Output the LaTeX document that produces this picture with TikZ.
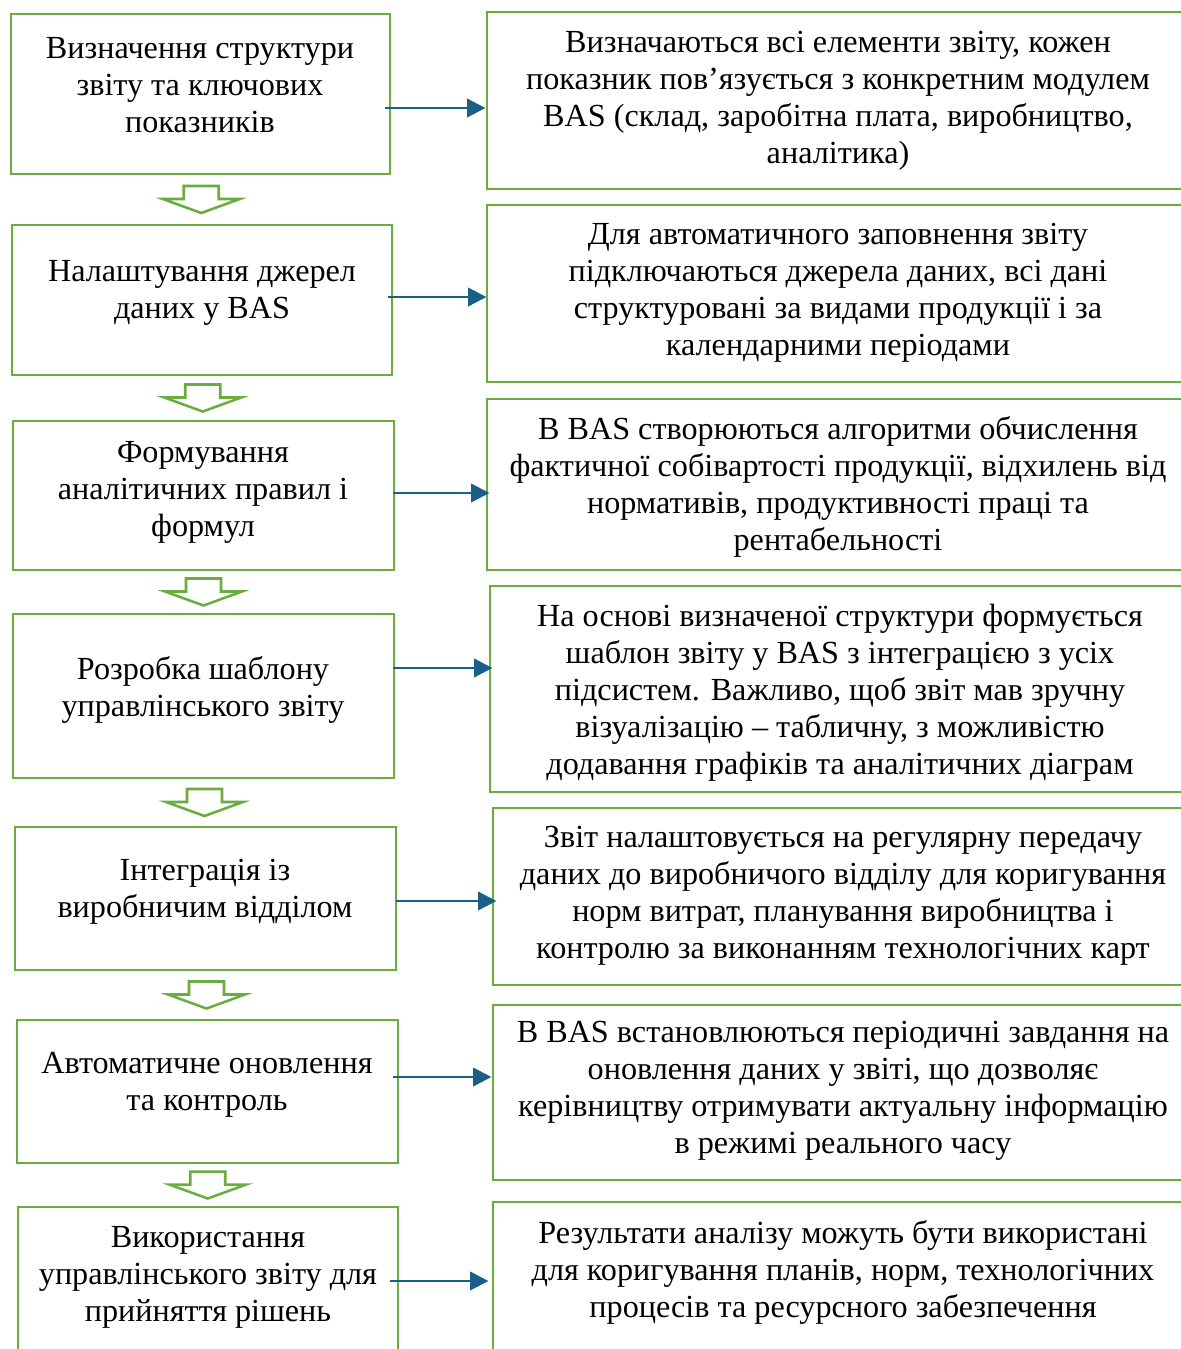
\documentclass[tikz,border=0pt]{standalone}
\usepackage{fontspec}
\setmainfont{Liberation Serif}
\usepackage{tikz}
\usetikzlibrary{arrows.meta}
\usetikzlibrary{calc}
\usetikzlibrary{fit}
\usepackage{xcolor}
\definecolor{boxgreen}{RGB}{106,172,62}
\definecolor{linkblue}{RGB}{26,95,135}

\tikzset{
    box/.style={draw=boxgreen, line width=1.1pt, rectangle, inner sep=0pt, outer sep=0pt},
    txt/.style={align=center, inner sep=0pt, font=\fontsize{14pt}{16.1pt}\selectfont},
    link/.style={draw=linkblue, line width=1.1pt, shorten >=-1.5pt, -{Triangle[length=8pt,width=8pt]}},
    blk/.style={draw=boxgreen, line width=1.1pt, fill=white, line join=miter}
}

\begin{document}
\begin{tikzpicture}[x=0.435pt, y=-0.435pt]
        \useasboundingbox (0,0) rectangle (1181,1349);
        \foreach \n/\xa/\ya/\xb/\yb in {l1/11/14/390/174, l2/12/225/392/375, l3/13/421/394/570,
            l4/13/614/394/778, l5/15/827/396/970, l6/17/1020/398/1163, l7/18/1207/398/1370,
            r1/487/12/1188/189, r2/487/205/1188/382, r3/487/399/1188/570, r4/490/586/1188/792,
            r5/493/808/1188/985, r6/493/1005/1188/1180, r7/493/1202/1188/1370}
        {
            \node[box, fit={(\xa,\ya) (\xb,\yb)}] (\n) {};
        }

        \node[txt] (t1) at (200,85) {Визначення структури\\звіту та ключових\\показників};
        \node[txt] (t2) at (202,293) {Налаштування джерел\\даних у BAS};
        \node[txt] (t3) at (203,492) {Формування\\аналітичних правил і\\формул};
        \node[txt] (t4) at (203,690) {Розробка шаблону\\управлінського звіту};
        \node[txt] (t5) at (205,892) {Інтеграція із\\виробничим відділом};
        \node[txt] (t6) at (207,1085) {Автоматичне оновлення\\та контроль};
        \node[txt] (t7) at (208,1277) {Використання\\управлінського звіту для\\прийняття рішень};

        \node[txt] (d1) at (838,101) {Визначаються всі елементи звіту, кожен\\показник пов’язується з конкретним модулем\\BAS (склад, заробітна плата, виробництво,\\аналітика)};
        \node[txt] (d2) at (838,293) {Для автоматичного заповнення звіту\\підключаються джерела даних, всі дані\\структуровані за видами продукції і за\\календарними періодами};
        \node[txt] (d3) at (838,487) {В BAS створюються алгоритми обчислення\\фактичної собівартості продукції, відхилень від\\нормативів, продуктивності праці та\\рентабельності};
        \node[txt] (d4) at (840,693) {На основі визначеної структури формується\\шаблон звіту у BAS з інтеграцією з усіх\\підсистем. Важливо, щоб звіт мав зручну\\візуалізацію – табличну, з можливістю\\додавання графіків та аналітичних діаграм};
        \node[txt] (d5) at (843,896) {Звіт налаштовується на регулярну передачу\\даних до виробничого відділу для коригування\\норм витрат, планування виробництва і\\контролю за виконанням технологічних карт};
        \node[txt] (d6) at (843,1091) {В BAS встановлюються періодичні завдання на\\оновлення даних у звіті, що дозволяє\\керівництву отримувати актуальну інформацію\\в режимі реального часу};
        \node[txt] (d7) at (843,1272) {Результати аналізу можуть бути використані\\для коригування планів, норм, технологічних\\процесів та ресурсного забезпечення};

        \foreach \i/\dx/\dy in {1/-5/14, 2/-4/-3, 3/-1/-2.5, 4/-1/-28, 5/0/2.5, 6/-5/-14.5, 7/-8/-7.5}
        {
            \draw[link] ([shift={(\dx,\dy)}]l\i.east) -- ([shift={(\dx,\dy)}]l\i.east -| r\i.west);
        }

        \foreach \a/\b in {l1/l2, l2/l3, l3/l4, l4/l5, l5/l6, l6/l7}
        {
            \draw[blk] ($(\a.south)!.5!(\b.north)$) ++(-17.5,-13.5) -- ++(35,0) -- ++(0,13) -- ++(21,0)
                -- ++(-38.5,14) -- ++(-38.5,-14) -- ++(21,0) -- cycle;
        }
    \end{tikzpicture}
\end{document}
